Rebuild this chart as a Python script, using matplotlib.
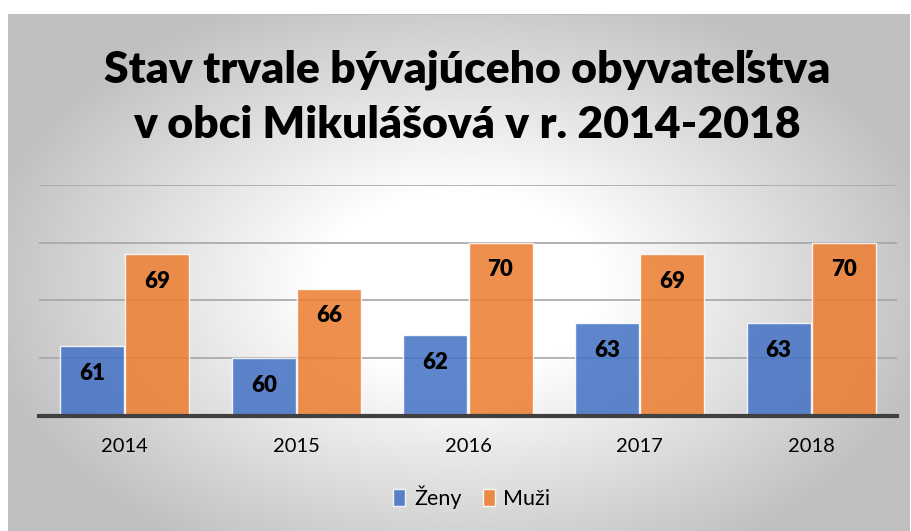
import matplotlib
matplotlib.use("Agg")
import matplotlib.pyplot as plt
import numpy as np

years = ["2014", "2015", "2016", "2017", "2018"]
zeny = [61, 60, 62, 63, 63]
muzi = [69, 66, 70, 69, 70]
series_names = ["Ženy", "Muži"]
title_text = "Stav trvale bývajúceho obyvateľstva\nv obci Mikulášová v r. 2014-2018"

W, H = 912, 531


def main():
    plt.rcParams['font.family'] = ['Lato', 'DejaVu Sans']

    fig = plt.figure(figsize=(W / 100, H / 100), dpi=100)
    fig.patch.set_facecolor("white")

    # radial gray background of the chart area
    bg = fig.add_axes([8 / W, 0, (910 - 8) / W, (H - 14) / H])
    ny, nx = 260, 450
    yy, xx = np.mgrid[0:ny, 0:nx]
    cx, cy = nx * 0.5, ny * 0.52
    r = np.sqrt(((xx - cx) / (nx * 0.55)) ** 2 + ((yy - cy) / (ny * 0.62)) ** 2)
    val = 1.0 - 0.25 * np.clip((r - 0.28) / 0.7, 0, 1)
    bg.imshow(val, cmap="gray", vmin=0, vmax=1, aspect="auto",
              extent=[0, 1, 0, 1], interpolation="bilinear")
    bg.set_axis_off()
    bg.plot([0, 1], [1, 1], color="#bfbfbf", lw=1.5, transform=bg.transAxes)

    ax = fig.add_axes([39 / W, (H - 415.7) / H, (897 - 39) / W, (415.7 - 185) / H])
    ax.set_facecolor("none")

    x = np.arange(len(years))
    w = 0.373
    b1 = ax.bar(x - w / 2 - 0.003, np.array(zeny) - 55, w, bottom=55,
                color="#4472C4", alpha=0.86, edgecolor=(1, 1, 1, 0.6),
                linewidth=1, label=series_names[0], zorder=3)
    b2 = ax.bar(x + w / 2 + 0.003, np.array(muzi) - 55, w, bottom=55,
                color="#ED7D31", alpha=0.86, edgecolor=(1, 1, 1, 0.6),
                linewidth=1, label=series_names[1], zorder=3)

    for bars, vals in ((b1, zeny), (b2, muzi)):
        for rect, v in zip(bars, vals):
            ax.text(rect.get_x() + rect.get_width() / 2, v - 2.35, str(v),
                    ha="center", va="center", fontsize=16, fontweight="heavy",
                    color="black", zorder=5)

    ax.set_xlim(-0.5, len(years) - 0.5)
    ax.set_ylim(55, 75)
    ax.set_yticks([60, 65, 70, 75])
    ax.yaxis.grid(True, color="#a6a6a6", linewidth=1.2, zorder=1)
    ax.set_axisbelow(True)
    ax.tick_params(axis="y", left=False, labelleft=False)
    ax.set_xticks(x)
    ax.set_xticklabels(years, fontsize=14.5)
    ax.tick_params(axis="x", length=0, pad=16)
    for s in ["top", "right", "left"]:
        ax.spines[s].set_visible(False)
    ax.spines["bottom"].set_color("#404040")
    ax.spines["bottom"].set_linewidth(3)
    ax.spines["bottom"].set_zorder(4)

    fig.text(467 / W, (H - 97.5) / H, title_text, ha="center", va="center",
             fontsize=32, fontweight="heavy", linespacing=1.45)

    fig.legend(handles=[b1, b2], labels=series_names, loc="center",
               bbox_to_anchor=(472 / W, (H - 497) / H), ncol=2, frameon=False,
               fontsize=15.5, handlelength=0.55, handleheight=0.8,
               handletextpad=0.4, columnspacing=1.0)

    fig.savefig("out.png", dpi=100)


if __name__ == "__main__":
    main()
